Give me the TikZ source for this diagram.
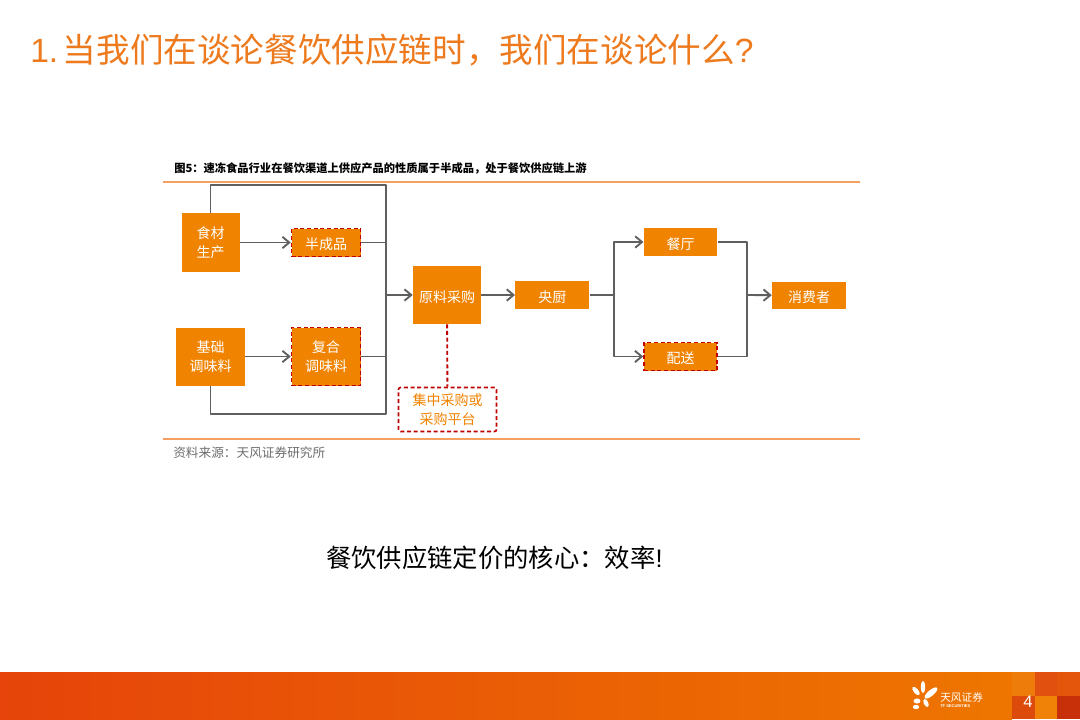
\documentclass[tikz,border=0pt]{standalone}
\usepackage{fontspec}
\setmainfont{Noto Sans CJK SC}
\newfontfamily\latinfont{Liberation Sans}
\usetikzlibrary{arrows.meta}
\definecolor{myorange}{HTML}{F08300}
\definecolor{titleorange}{HTML}{EE7A1E}
\definecolor{rulecolor}{HTML}{F5A060}
\definecolor{myred}{HTML}{C00000}
\definecolor{linegray}{HTML}{5F5F5F}
\definecolor{srcgray}{HTML}{6E6E6E}
\definecolor{bandleft}{HTML}{E6440A}
\definecolor{bandright}{HTML}{EE7600}
\definecolor{tilea}{HTML}{EE7C0A}
\definecolor{tileb}{HTML}{E2500F}
\definecolor{tilec}{HTML}{E4560C}
\definecolor{tiled}{HTML}{DC4A0C}
\definecolor{tilee}{HTML}{F08208}
\definecolor{tilef}{HTML}{C8300A}
\newcommand{\fwcomma}{\char"FF0C\relax}
\newcommand{\fwcolon}{\char"FF1A\relax}
\tikzset{
  box/.style={fill=myorange, text=white, align=center, inner sep=0pt, font=\fontsize{10.5}{14}\selectfont,
              execute at begin node={\rule{0pt}{12pt}}},
  dashbox/.style={box, draw=myred, densely dashed, line width=1.2pt},
  platbox/.style={dashbox, fill=white, text=myorange, rounded corners=1.5pt},
  conn/.style={draw=linegray, line width=1.4pt, line join=round},
  arr/.style={conn, -{Straight Barb[length=1.8mm,width=3mm]}},
  rulebar/.style={draw=rulecolor, line width=1pt},
  petal/.style={fill=white, draw=none},
}
\newcommand{\blk}[5]{\node[#1, minimum width=#2*0.75pt, minimum height=#3*0.75pt] (#4) at #5}
\begin{document}
\begin{tikzpicture}[x=0.75pt,y=-0.75pt]
  \useasboundingbox (0,0) rectangle (1080,720);
  \fill[white] (0,0) rectangle (1080,720);
  \node[anchor=west, text=titleorange, font=\fontsize{25.2}{30}\selectfont, inner sep=0pt] (title) at (30,50) {{\latinfont 1.}\kern 3.5pt 当我们在谈论餐饮供应链时\fwcomma 我们在谈论什么{\latinfont ?}};
  \node[anchor=west, font=\bfseries\fontsize{8.45}{11}\selectfont, inner sep=0pt] (caption) at (174,168) {图5\fwcolon 速冻食品行业在餐饮渠道上供应产品的性质属于半成品\fwcomma 处于餐饮供应链上游};
  \coordinate (ruletopl) at (163,182);
  \coordinate (ruletopr) at (860,182);
  \coordinate (rulebotl) at (163,439);
  \coordinate (rulebotr) at (860,439);
  \draw[rulebar] (ruletopl) -- (ruletopr);
  \draw[rulebar] (rulebotl) -- (rulebotr);
  \node[anchor=west, text=srcgray, font=\fontsize{9.5}{12}\selectfont, inner sep=0pt] (source) at (173,453) {资料来源\fwcolon 天风证券研究所};
  \blk{box}{58}{58}{shicai}{(210.5,242.5)} {食材\\生产};
  \blk{dashbox}{69}{28}{banchengpin}{(326,242.5)} {半成品};
  \blk{box}{69}{58}{jichu}{(210.5,356.5)} {基础\\调味料};
  \blk{dashbox}{69}{58}{fuhe}{(326,356.5)} {复合\\调味料};
  \blk{box}{68}{58}{yuanliao}{(447,295)} {原料采购};
  \blk{platbox}{98}{44}{caigou}{(447.5,409.5)} {集中采购或\\采购平台};
  \blk{box}{74}{27.5}{yangchu}{(552.3,295)} {央厨};
  \blk{box}{73.5}{27.5}{canting}{(680.5,242)} {餐厅};
  \blk{dashbox}{73}{28}{peisong}{(680.5,356.5)} {配送};
  \blk{box}{74}{27.5}{xiaofei}{(809,295.5)} {消费者};
  \coordinate (topr) at (386,185);
  \coordinate (botr) at (386,413.7);
  \coordinate (midl) at (386,295);
  \coordinate (forkl) at (614,295);
  \coordinate (forkr) at (746.7,295);
  \draw[conn] (shicai.north) |- (topr) -- (botr) -| (jichu.south);
  \draw[arr] (shicai) -- (banchengpin);
  \draw[arr] (jichu) -- (fuhe);
  \draw[conn] (banchengpin) -- (banchengpin -| topr);
  \draw[conn] (fuhe) -- (fuhe -| topr);
  \draw[arr] (midl) -- (yuanliao);
  \draw[arr] (yuanliao) -- (yangchu);
  \draw[conn, myred, densely dashed] (yuanliao) -- (caigou);
  \draw[conn] (yangchu) -- (forkl);
  \draw[arr] (forkl) |- (canting);
  \draw[arr] (forkl) |- (peisong);
  \draw[conn] (canting) -| (forkr);
  \draw[conn] (peisong) -| (forkr);
  \draw[arr] (forkr) -- (xiaofei);
  \node[anchor=west, font=\fontsize{19}{22}\selectfont, inner sep=0pt] (core) at (326,558) {餐饮供应链定价的核心\fwcolon 效率{\latinfont !}};
  \shade[left color=bandleft, right color=bandright] (0,672) rectangle (1012,719);
  \foreach \cx/\cy/\col in {1012/672/tilea, 1034.7/672/tileb, 1057.4/672/tilec, 1012/695.5/tiled, 1034.7/695.5/tilee, 1057.4/695.5/tilef}
    \fill[\col] (\cx,\cy) rectangle ++(22.7,23.5);
  \node[text=white, font=\latinfont\fontsize{12.5}{14}\selectfont, inner sep=0pt] (pagenum) at (1028,702) {4};
  \fill[petal] (923,687) ellipse (1.6pt and 4.6pt);
  \fill[petal, rotate around={-50:(931,693)}] (931,693) ellipse (2.2pt and 6pt);
  \fill[petal, rotate around={40:(916,691)}] (916,691) ellipse (1.8pt and 3.8pt);
  \fill[petal] (917,701) ellipse (2.6pt and 1.9pt);
  \fill[petal] (916,707) ellipse (2.4pt and 1.6pt);
  \fill[petal, rotate around={25:(926,703)}] (926,703) ellipse (1.7pt and 3.2pt);
  \node[anchor=west, text=white, font=\fontsize{8}{10}\selectfont, inner sep=0pt] (brand) at (940,697) {天风证券};
  \node[anchor=west, text=white, font=\latinfont\bfseries\fontsize{3}{4}\selectfont, inner sep=0pt] (brandsub) at (940,706) {TF SECURITIES};
\end{tikzpicture}
\end{document}
